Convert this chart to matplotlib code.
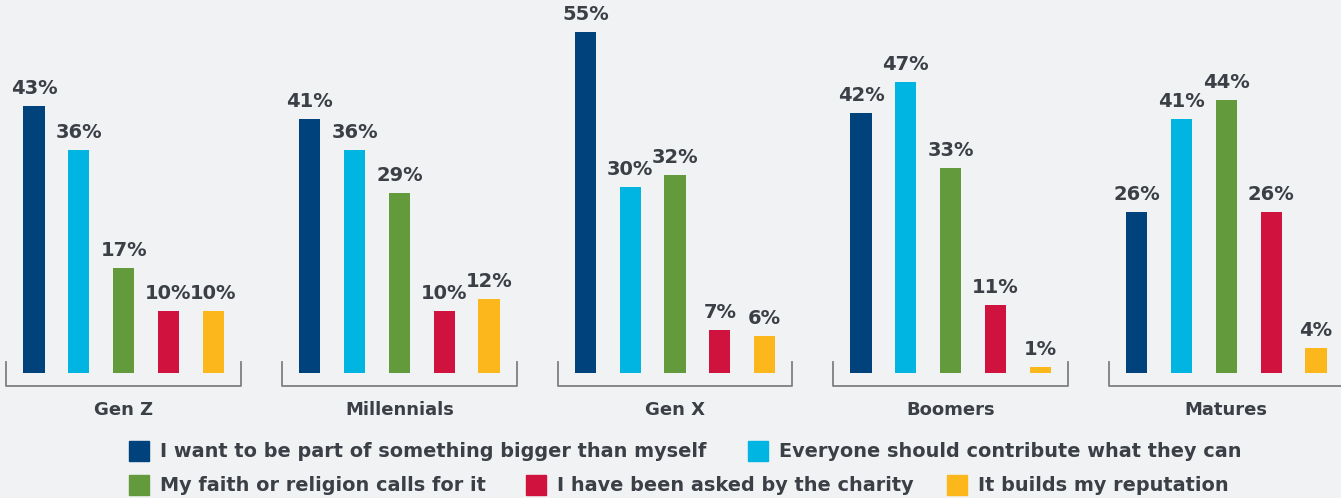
import matplotlib.pyplot as plt
from matplotlib.patches import Rectangle
import numpy as np

groups = ["Gen Z", "Millennials", "Gen X", "Boomers", "Matures"]
reasons = ["I want to be part of something bigger than myself",
           "Everyone should contribute what they can",
           "My faith or religion calls for it",
           "I have been asked by the charity",
           "It builds my reputation"]
bigger = [43, 41, 55, 42, 26]
everyone = [36, 36, 30, 47, 41]
faith = [17, 29, 32, 33, 44]
asked = [10, 10, 7, 11, 26]
reputation = [10, 12, 6, 1, 4]
series = [bigger, everyone, faith, asked, reputation]
colors = ["#00427c", "#00b5e2", "#639a3b", "#cf123e", "#fbb71b"]

bg = "#f1f2f4"
txt = "#3b3f46"
plt.rcParams['font.family'] = ['DejaVu Sans']

fig = plt.figure(figsize=(13.41, 4.98), dpi=100, facecolor=bg)
ax = fig.add_axes([0, 125/498, 1, 373/498])
ax.set_facecolor(bg)

gap = 6.15
px = 44.8  # px per bar slot
for g, name in enumerate(groups):
    base = g * gap
    for i, s in enumerate(series):
        x = base + i
        ax.bar(x, s[g], width=0.47, color=colors[i])
        ax.text(x, s[g] + 1.3, f"{s[g]}%", ha="center", va="bottom",
                fontsize=14, fontweight="bold", color=txt)
    c = base + 2
    left, right = c - 2.62, c + 2.62
    ax.plot([left, left, right, right], [1.8, -2.1, -2.1, 1.8],
            color="#7d7f84", lw=1.3, clip_on=False)
    ax.text(c, -6.0, name, ha="center", va="center", fontsize=13,
            fontweight="bold", color=txt, clip_on=False)

ax.set_xlim(-34/px, 4*gap + 4 + 25/px)
ax.set_ylim(0, 373/6.2)
ax.axis("off")

# legend laid out by hand
W, H = 1341, 498
items = [(0, 129, 451), (1, 748, 451), (2, 129, 485), (3, 526, 485), (4, 947, 485)]
for idx, x0, yc in items:
    fig.patches.append(Rectangle((x0/W, 1 - (yc + 10)/H), 20/W, 20/H,
                                 transform=fig.transFigure, color=colors[idx]))
    fig.text((x0 + 31)/W, 1 - yc/H, reasons[idx], ha="left", va="center",
             fontsize=13.9, fontweight="bold", color=txt)

fig.savefig("out.png", dpi=100, facecolor=bg)
